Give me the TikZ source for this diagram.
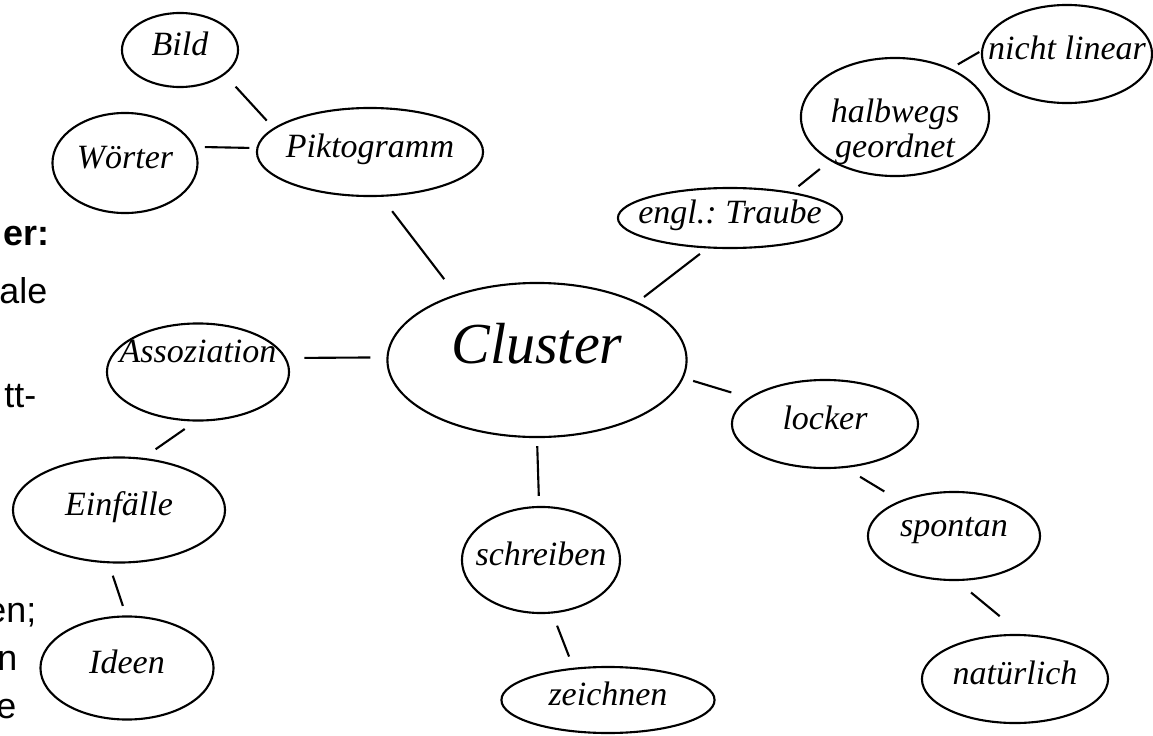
\documentclass[tikz,border=0pt]{standalone}
\usepackage{fontspec}
\setmainfont{Liberation Serif}
\newfontfamily\arial{Liberation Sans}
\usetikzlibrary{shapes.geometric}
\newcommand{\wort}[1]{\makebox[0pt]{#1}}
\frenchspacing

\begin{document}
\begin{tikzpicture}[x=0.01cm,y=-0.01cm,
    bubble/.style={ellipse,draw,line width=0.6pt,inner sep=0pt,
      font=\itshape\fontsize{9.67}{10}\selectfont,text height=0.24cm,text depth=0.14cm},
    link/.style={line width=0.6pt},
    side/.style={anchor=base east,inner sep=0pt,font=\arial\fontsize{10.2}{12}\selectfont}]
    \useasboundingbox (0,0) rectangle (1153,736);
    % cut-off slide text on the left
    \begin{scope}
      \clip (0,0) rectangle (1153,736);
      \node[side,font=\arial\bfseries\fontsize{10.2}{12}\selectfont] (t1) at (50,245) {er:};
      \node[side] (t2) at (48,303) {ale};
      \node[side] (t3) at (37,407) {tt-};
      \node[side] (t4) at (37,622) {en;};
      \node[side] (t5) at (18,670) {n};
      \node[side] (t6) at (17,718) {e};
    \end{scope}
    % bubbles
    \node[bubble,minimum width=2.99cm,minimum height=1.54cm,
      font=\itshape\fontsize{16.5}{18}\selectfont,text height=0.40cm,text depth=0.34cm]
      (cluster) at (537,360) {\wort{Cluster}};
    \node[bubble,minimum width=1.16cm,minimum height=0.74cm] (bild) at (180,50) {\wort{Bild}};
    \node[bubble,minimum width=1.45cm,minimum height=1cm] (woerter) at (125,163) {\wort{Wörter}};
    \node[bubble,minimum width=2.26cm,minimum height=0.88cm] (pikto) at (370,152) {\wort{Piktogramm}};
    \node[bubble,minimum width=2.24cm,minimum height=0.6cm] (traube) at (730,218) {\wort{engl.: Traube}};
    \node[bubble,minimum width=1.88cm,minimum height=1.18cm] (halb) at (895,117)
      {\wort{\begin{tabular}[t]{@{}c@{}}halbwegs\\geordnet\end{tabular}}};
    \node[bubble,minimum width=1.7cm,minimum height=0.98cm] (nicht) at (1067,54) {\wort{nicht linear}};
    \node[bubble,minimum width=1.82cm,minimum height=0.97cm,text depth=0.42cm] (assoz) at (198,372) {\wort{Assoziation}};
    \node[bubble,minimum width=2.12cm,minimum height=1.05cm] (einf) at (119,510) {\wort{Einfälle}};
    \node[bubble,minimum width=1.73cm,minimum height=1.03cm] (ideen) at (127,668) {\wort{Ideen}};
    \node[bubble,minimum width=1.58cm,minimum height=1.06cm] (schreiben) at (541,560) {\wort{schreiben}};
    \node[bubble,minimum width=2.13cm,minimum height=0.66cm] (zeichnen) at (608,700) {\wort{zeichnen}};
    \node[bubble,minimum width=1.86cm,minimum height=0.88cm] (locker) at (825,424) {\wort{locker}};
    \node[bubble,minimum width=1.72cm,minimum height=0.88cm,text depth=0.24cm] (spontan) at (954,536) {\wort{spontan}};
    \node[bubble,minimum width=1.86cm,minimum height=0.88cm] (natuer) at (1015,679) {\wort{natürlich}};
    % links
    \draw[link,shorten <=0.16cm,shorten >=0.1cm] (bild.-29) -- (pikto.166);
    \draw[link,shorten <=0.1cm,shorten >=0.07cm] (woerter.13) -- (pikto.178);
    \draw[link,shorten <=0.18cm,shorten >=0.19cm] (pikto.-76) -- (cluster.141);
    \draw[link,shorten <=0.08cm,shorten >=0.09cm] (cluster.30) -- (traube.-127);
    \draw[link,shorten <=0.09cm,shorten >=0.13cm] (traube.23) -- (halb.-146);
    \draw[link,shorten <=0.08cm,shorten >=0.02cm] (halb.41) -- (nicht.178);
    \draw[link,shorten <=0.18cm,shorten >=0.16cm] (assoz.9) -- (cluster.179);
    \draw[link,shorten <=0.13cm,shorten >=0.15cm] (assoz.-93) -- (einf.65);
    \draw[link,shorten <=0.13cm,shorten >=0.1cm] (einf.-101) -- (ideen.91);
    \draw[link,shorten <=0.08cm,shorten >=0.1cm] (cluster.-90) -- (schreiben.92);
    \draw[link,shorten <=0.13cm,shorten >=0.12cm] (schreiben.-78) -- (zeichnen.137);
    \draw[link,shorten <=0.1cm,shorten >=0.18cm] (cluster.-7) -- (locker.161);
    \draw[link,shorten <=0.17cm,shorten >=0.18cm] (locker.-65) -- (spontan.147);
    \draw[link,shorten <=0.18cm,shorten >=0.28cm] (spontan.-86) -- (natuer.82);
\end{tikzpicture}
\end{document}
